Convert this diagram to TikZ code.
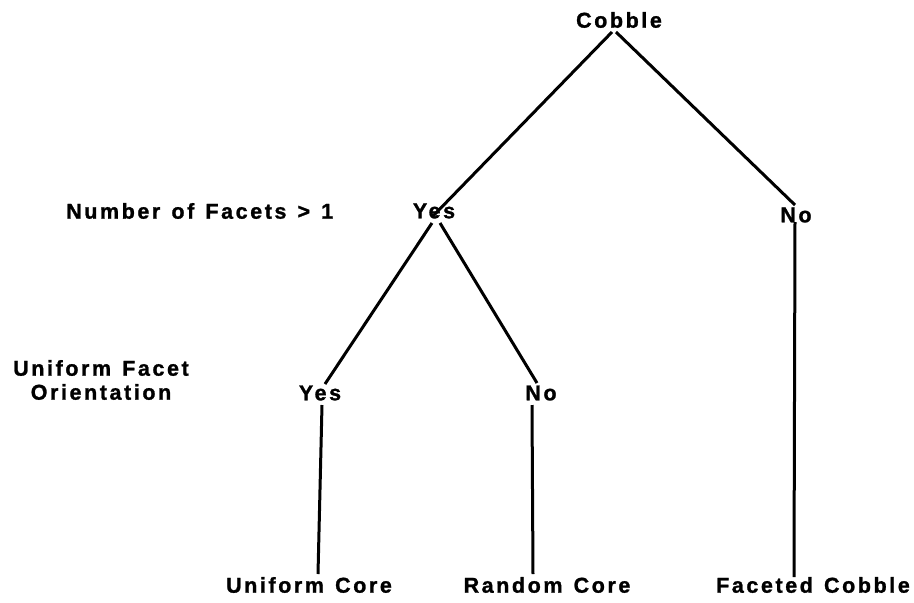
\documentclass[tikz,border=0pt]{standalone}
\usepackage{fontspec}
\setmainfont{Liberation Sans}[LetterSpace=12, WordSpace=1.3, BoldFeatures={FakeBold=1.2}]
\begin{document}
\begin{tikzpicture}[x=1pt,y=-1pt,
  lbl/.style={font=\bfseries\fontsize{21.5}{24}\selectfont, inner sep=0pt, text=black},
  edge/.style={line width=3pt, black}]
\useasboundingbox[fill=white] (0,0) rectangle (914,603);
% nodes
\node[lbl] (cobble) at (619,20) {Cobble};
\node[lbl, anchor=west] (facets) at (66,211) {Number of Facets > 1};
\node[lbl] (yes1) at (434,211) {Yes};
\node[lbl] (no1) at (796,215) {No};
\node[lbl, align=center] (ufo) at (101,380) {Uniform Facet\\Orientation};
\node[lbl] (yes2) at (320,393) {Yes};
\node[lbl] (no2) at (541,393) {No};
\node[lbl] (ucore) at (309,585) {Uniform Core};
\node[lbl] (rcore) at (547,585) {Random Core};
\node[lbl] (fcobble) at (813,585) {Faceted Cobble};
% connectors
\draw[edge] ([xshift=-7pt,yshift=-12pt]cobble.center) -- ([xshift=-1pt,yshift=-5pt]yes1.center);
\draw[edge] ([xshift=-3pt,yshift=-12pt]cobble.center) -- ([xshift=-1pt,yshift=10pt]no1.center);
\draw[edge] ([xshift=-2pt,yshift=-12pt]yes1.center) -- ([xshift=5pt,yshift=9pt]yes2.center);
\draw[edge] ([xshift=6pt,yshift=-12pt]yes1.center) -- ([xshift=-4pt,yshift=10pt]no2.center);
\draw[edge] ([xshift=2pt,yshift=-12pt]yes2.center) -- ([xshift=9pt,yshift=11pt]ucore.center);
\draw[edge] ([xshift=-9pt,yshift=-12pt]no2.center) -- ([xshift=-14pt,yshift=11pt]rcore.center);
\draw[edge] ([xshift=-1pt,yshift=-7pt]no1.center) -- ([xshift=-19pt,yshift=8pt]fcobble.center);
\end{tikzpicture}
\end{document}
